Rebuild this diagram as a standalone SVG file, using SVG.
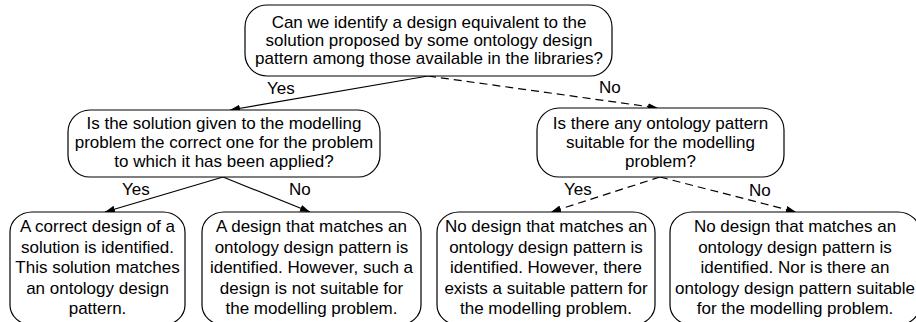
<svg xmlns="http://www.w3.org/2000/svg" width="916" height="322" viewBox="0 0 916 322">
<style>
.box{fill:#fff;stroke:#000;stroke-width:1.2}
.t{font-family:"Liberation Sans",Arial,sans-serif;font-size:17px;fill:#000;text-anchor:middle}
.l{font-family:"Liberation Sans",Arial,sans-serif;font-size:17px;fill:#000}
.c{fill:none;stroke:#000;stroke-width:1.2}
.d{stroke-dasharray:8,5}
</style>
<defs>
<marker id="ah" markerWidth="11" markerHeight="8" refX="10" refY="3.5" orient="auto" markerUnits="userSpaceOnUse">
<path d="M0,0 L10,3.5 L0,7 z" fill="#000"/>
</marker>
</defs>
<rect width="916" height="322" fill="#fff"/>
<g id="connectors">
<line class="c" x1="428" y1="76" x2="230" y2="110" marker-end="url(#ah)"/>
<line class="c d" x1="428" y1="76" x2="658" y2="108" marker-end="url(#ah)"/>
<line class="c" x1="223" y1="177" x2="105" y2="212" marker-end="url(#ah)"/>
<line class="c" x1="223" y1="177" x2="310" y2="212" marker-end="url(#ah)"/>
<line class="c d" x1="660" y1="177" x2="551" y2="212" marker-end="url(#ah)"/>
<line class="c d" x1="660" y1="177" x2="796" y2="212" marker-end="url(#ah)"/>
<text class="l" x="267" y="94">Yes</text>
<text class="l" x="599" y="93">No</text>
<text class="l" x="122" y="195">Yes</text>
<text class="l" x="289" y="195">No</text>
<text class="l" x="564" y="195">Yes</text>
<text class="l" x="749" y="196">No</text>
</g>
<g id="q1">
<rect class="box" x="245" y="5" width="367" height="71" rx="22" ry="22"/>
<text class="t" x="429" y="28">Can we identify a design equivalent to the</text>
<text class="t" x="429" y="46">solution proposed by some ontology design</text>
<text class="t" x="429" y="63.5">pattern among those available in the libraries?</text>
</g>
<g id="q2">
<rect class="box" x="68" y="110" width="312" height="67" rx="22" ry="22"/>
<text class="t" x="224" y="129">Is the solution given to the modelling</text>
<text class="t" x="224" y="148">problem the correct one for the problem</text>
<text class="t" x="224" y="167">to which it has been applied?</text>
</g>
<g id="q3">
<rect class="box" x="537" y="108" width="247" height="69" rx="22" ry="22"/>
<text class="t" x="660.5" y="129">Is there any ontology pattern</text>
<text class="t" x="660.5" y="148">suitable for the modelling</text>
<text class="t" x="660.5" y="167">problem?</text>
</g>
<g id="r1">
<rect class="box" x="10" y="212" width="175" height="113" rx="22" ry="20"/>
<text class="t" x="97.5" y="232">A correct design of a</text>
<text class="t" x="97.5" y="252.5">solution is identified.</text>
<text class="t" x="97.5" y="273">This solution matches</text>
<text class="t" x="97.5" y="293.5">an ontology design</text>
<text class="t" x="97.5" y="314">pattern.</text>
</g>
<g id="r2">
<rect class="box" x="202" y="212" width="219" height="113" rx="22" ry="20"/>
<text class="t" x="311.5" y="232">A design that matches an</text>
<text class="t" x="311.5" y="252.5">ontology design pattern is</text>
<text class="t" x="311.5" y="273">identified. However, such a</text>
<text class="t" x="311.5" y="293.5">design is not suitable for</text>
<text class="t" x="311.5" y="314">the modelling problem.</text>
</g>
<g id="r3">
<rect class="box" x="437" y="212" width="218" height="113" rx="22" ry="20"/>
<text class="t" x="546" y="232">No design that matches an</text>
<text class="t" x="546" y="252.5">ontology design pattern is</text>
<text class="t" x="546" y="273">identified. However, there</text>
<text class="t" x="546" y="293.5">exists a suitable pattern for</text>
<text class="t" x="546" y="314">the modelling problem.</text>
</g>
<g id="r4">
<rect class="box" x="670" y="212" width="250" height="113" rx="22" ry="20"/>
<text class="t" x="795" y="232">No design that matches an</text>
<text class="t" x="795" y="252.5">ontology design pattern is</text>
<text class="t" x="795" y="273">identified. Nor is there an</text>
<text class="t" x="795" y="293.5">ontology design pattern suitable</text>
<text class="t" x="795" y="314">for the modelling problem.</text>
</g>
</svg>
